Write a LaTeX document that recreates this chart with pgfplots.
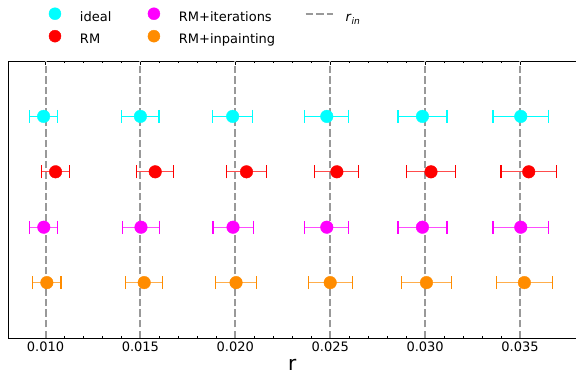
\documentclass[border=0pt]{standalone}
\usepackage{pgfplots}
\pgfplotsset{compat=1.18}
\usepackage{fontspec}
\setmainfont{DejaVu Sans}
\definecolor{mcyan}{RGB}{0,255,255}
\definecolor{mred}{RGB}{255,0,0}
\definecolor{mmag}{RGB}{255,0,255}
\definecolor{morange}{RGB}{255,140,0}
\definecolor{dgray}{RGB}{153,153,153}
\pgfplotsset{
  markleg/.style={legend image code/.code={\path[draw=none] (0pt,0pt) -- (26pt,0pt); \path[##1, draw=none] plot coordinates {(13pt,4.5pt)};}},
  lineleg/.style={legend image code/.code={\draw[##1] (0pt,4.5pt) -- (27pt,4.5pt);}},
  rin/.style={forget plot, dgray, line width=2pt, dash pattern=on 7.4pt off 3.2pt},
}
\begin{document}
\begin{tikzpicture}
\useasboundingbox (-8.5pt,-38pt) rectangle (567.5pt,338pt);
\begin{axis}[
  scale only axis, width=567.5pt, height=277pt,
  xmin=0.00805, xmax=0.03795, ymin=0, ymax=5,
  ytick=\empty,
  xtick={0.010,0.015,0.020,0.025,0.030,0.035},
  minor x tick num=4,
  tick align=inside,
  major tick length=3.5pt, minor tick length=2pt,
  tick style={black, line width=0.8pt},
  axis line style={black, line width=0.8pt},
  scaled x ticks=false,
  /pgf/number format/assume math mode=true,
  xticklabel style={/pgf/number format/fixed, /pgf/number format/fixed zerofill, /pgf/number format/precision=3, font=\fontsize{13}{15}\selectfont},
  xlabel={r}, xlabel style={font=\fontsize{20}{22}\selectfont, yshift=-1pt},
  legend columns=3,
  legend cell align=left,
  legend style={draw=none, fill=none, at={(axis description cs:0.059,1.1924)}, anchor=north west,
    inner sep=0pt, outer sep=0pt, row sep=5.7pt,
    font=\fontsize{13}{15}\selectfont,
    nodes={inner sep=0pt, outer sep=0pt, text height=9.5pt, text depth=3pt},
    /tikz/every odd column/.append style={column sep=12pt},
    /tikz/every even column/.append style={column sep=29.5pt}},
]
% legend entries (column-wise order as in reference)
\addlegendimage{only marks, mark=*, mark size=6pt, mcyan, markleg}
\addlegendentry{ideal}
\addlegendimage{only marks, mark=*, mark size=6pt, mmag, markleg}
\addlegendentry{RM+iterations}
\addlegendimage{dgray, line width=2pt, dash pattern=on 7.4pt off 3.2pt, lineleg}
\addlegendentry{\textit{r}\textsubscript{\textit{in}}}
\addlegendimage{only marks, mark=*, mark size=6pt, mred, markleg}
\addlegendentry{RM}
\addlegendimage{only marks, mark=*, mark size=6pt, morange, markleg}
\addlegendentry{RM+inpainting}

% r_in dashed lines
\addplot[rin] coordinates {(0.010,0) (0.010,5)};
\addplot[rin] coordinates {(0.015,0) (0.015,5)};
\addplot[rin] coordinates {(0.020,0) (0.020,5)};
\addplot[rin] coordinates {(0.025,0) (0.025,5)};
\addplot[rin] coordinates {(0.030,0) (0.030,5)};
\addplot[rin] coordinates {(0.035,0) (0.035,5)};

% ideal
\addplot[forget plot, only marks, mark=*, mark size=6.3pt, mcyan,
  error bars/.cd, x dir=both, x explicit,
  error bar style={line width=1.2pt, mcyan},
  error mark=|, error mark options={mark size=6.5pt, line width=1.2pt, mcyan}]
coordinates {
 (0.00990,4) +- (0.00074,0)
 (0.01500,4) +- (0.00098,0)
 (0.01986,4) +- (0.00106,0)
 (0.02482,4) +- (0.00116,0)
 (0.02986,4) +- (0.00129,0)
 (0.03504,4) +- (0.00146,0)
};
% RM
\addplot[forget plot, only marks, mark=*, mark size=6.3pt, mred,
  error bars/.cd, x dir=both, x explicit,
  error bar style={line width=1.2pt, mred!70!white},
  error mark=|, error mark options={mark size=6.5pt, line width=1.2pt, mred}]
coordinates {
 (0.01053,3) +- (0.00074,0)
 (0.01578,3) +- (0.00098,0)
 (0.02059,3) +- (0.00105,0)
 (0.02535,3) +- (0.00116,0)
 (0.03031,3) +- (0.00129,0)
 (0.03546,3) +- (0.00146,0)
};
% RM+iterations
\addplot[forget plot, only marks, mark=*, mark size=6.3pt, mmag,
  error bars/.cd, x dir=both, x explicit,
  error bar style={line width=1.2pt, mmag!70!white},
  error mark=|, error mark options={mark size=6.5pt, line width=1.2pt, mmag}]
coordinates {
 (0.00991,2) +- (0.00074,0)
 (0.01503,2) +- (0.00098,0)
 (0.01988,2) +- (0.00106,0)
 (0.02482,2) +- (0.00116,0)
 (0.02986,2) +- (0.00129,0)
 (0.03504,2) +- (0.00146,0)
};
% RM+inpainting
\addplot[forget plot, only marks, mark=*, mark size=6.3pt, morange,
  error bars/.cd, x dir=both, x explicit,
  error bar style={line width=1.2pt, morange!70!white},
  error mark=|, error mark options={mark size=6.5pt, line width=1.2pt, morange}]
coordinates {
 (0.01007,1) +- (0.00075,0)
 (0.01520,1) +- (0.00098,0)
 (0.02004,1) +- (0.00107,0)
 (0.02500,1) +- (0.00116,0)
 (0.03007,1) +- (0.00130,0)
 (0.03523,1) +- (0.00147,0)
};
\end{axis}
\end{tikzpicture}
\end{document}
